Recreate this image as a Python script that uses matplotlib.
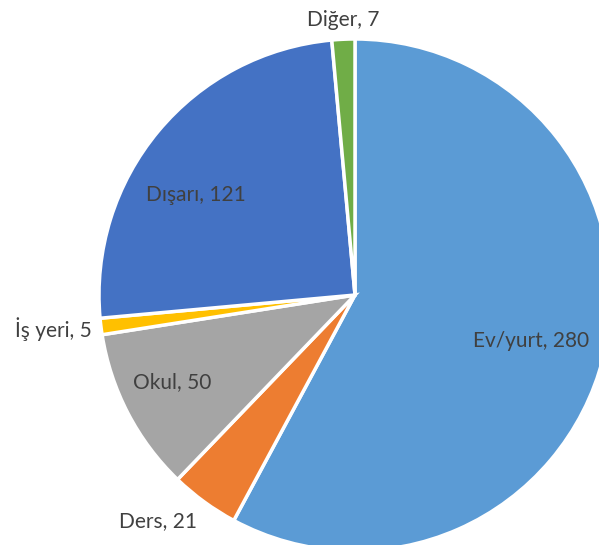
import matplotlib
matplotlib.use('Agg')
from matplotlib import pyplot as plt

plt.rcParams['font.family'] = ['Lato', 'DejaVu Sans']

# data
labels = ['Ev/yurt', 'Ders', 'Okul', 'İş yeri', 'Dışarı', 'Diğer']
values = [280, 21, 50, 5, 121, 7]
colors = ['#5B9BD5', '#ED7D31', '#A5A5A5', '#FFC000', '#4472C4', '#70AD47']

# label centres in pixels (x from left, y from top)
label_pos = [(531, 341), (158, 521), (172, 382), (53, 329), (196, 195), (343, 20)]

W, H = 599, 545
fig = plt.figure(figsize=(W / 100, H / 100), dpi=100)
ax = fig.add_axes([0, 0, 1, 1])

cx, cy, r = 355, 295, 256
ax.pie(values, colors=colors, startangle=90, counterclock=False,
       center=(cx, H - cy), radius=r, frame=True,
       wedgeprops=dict(edgecolor='white', linewidth=2.5))

for lab, v, (x, y) in zip(labels, values, label_pos):
    ax.text(x, H - y, f'{lab}, {v}', ha='center', va='center',
            fontsize=15, color='#404040')

ax.set_xlim(0, W)
ax.set_ylim(0, H)
ax.set_aspect('equal')
ax.axis('off')

fig.savefig('out.png', dpi=100, facecolor='white')
